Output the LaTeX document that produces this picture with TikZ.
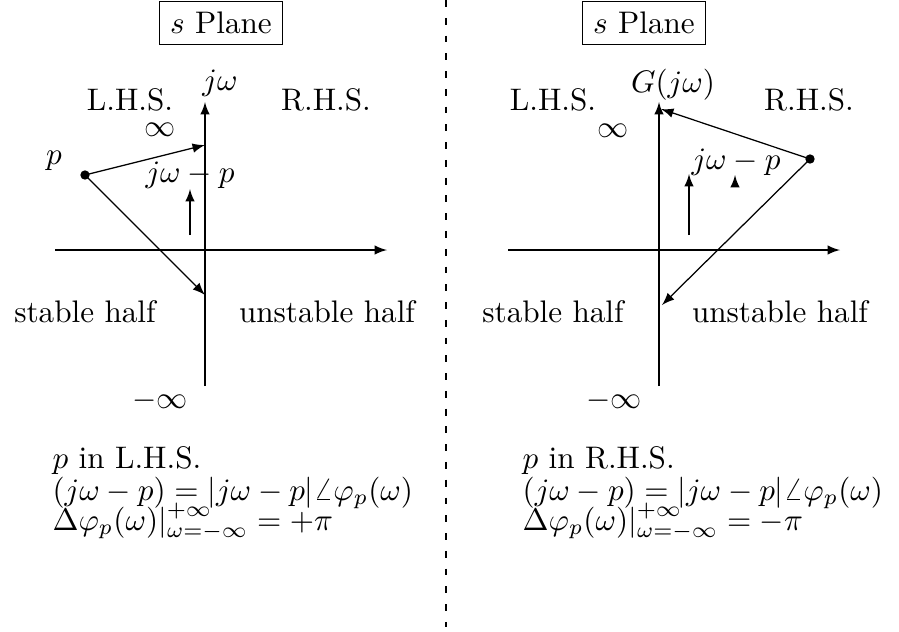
\documentclass[tikz,border=0pt]{standalone}
\usetikzlibrary{arrows}
\begin{document}
\begin{tikzpicture}[x=0.3208pt,y=-0.3208pt,
  axis/.style={-latex,line width=0.4pt},
  vec/.style={-latex,line width=0.4pt},
  lbl/.style={anchor=base,inner sep=0pt},
  lft/.style={anchor=base west,inner sep=0pt},
  titlebox/.style={draw,line width=0.4pt,inner sep=3.33pt},
  pole/.style={circle,fill,inner sep=0pt,minimum size=3pt}]
\useasboundingbox (0,0) rectangle (899,631);
% divider
\coordinate (dtop) at (446,0);
\coordinate (dbot) at (446,627);
\draw[line width=0.35pt,dash pattern=on 2.2pt off 3.5pt] (dtop) -- (dbot);
% ---------- left panel ----------
\node[titlebox] (t1) at (221,23) {$s$ Plane};
\coordinate (ly0) at (205,386);
\coordinate (ly1) at (205,102);
\coordinate (lx0) at (55,250);
\coordinate (lx1) at (387,250);
\draw[axis] (ly0) -- (ly1);
\draw[axis] (lx0) -- (lx1);
\node[lbl] (ljw) at (220,90) {$j\omega$};
\node[lbl] (llhs) at (130,110) {L.H.S.};
\node[lbl] (lrhs) at (326,110) {R.H.S.};
\node[lbl] (linf) at (160,136) {$\infty$};
\node[lbl] (lp) at (54,164) {$p$};
\node[pole] (lpole) at (85,175) {};
\coordinate (la) at (205,145);
\coordinate (lb) at (205,295);
\draw[vec] (lpole.center) -- (la);
\draw[vec] (lpole.center) -- (lb);
\node[lbl] (ljwp) at (190,182) {$j\omega-p$};
\coordinate (lu0) at (190,235);
\coordinate (lu1) at (190,189);
\draw[vec] (lu0) -- (lu1);
\node[lbl] (lst) at (85,322) {stable half};
\node[lbl] (lun) at (327,322) {unstable half};
\node[lbl] (lminf) at (160,408) {$-\infty$};
\node[lft] (lt1) at (52,468) {$p$ in L.H.S.};
\node[lft] (lt2) at (52,500) {$(j\omega-p)=|j\omega-p|\angle\varphi_p(\omega)$};
\node[lft] (lt3) at (52,530) {$\Delta\varphi_p(\omega)|_{\omega=-\infty}^{+\infty}=+\pi$};
% ---------- right panel ----------
\node[titlebox] (t2) at (644,23) {$s$ Plane};
\coordinate (ry0) at (659,386);
\coordinate (ry1) at (659,102);
\coordinate (rx0) at (508,250);
\coordinate (rx1) at (840,250);
\draw[axis] (ry0) -- (ry1);
\draw[axis] (rx0) -- (rx1);
\node[lbl] (rg) at (673,92) {$G(j\omega)$};
\node[lbl] (rlhs) at (553,110) {L.H.S.};
\node[lbl] (rrhs) at (809,110) {R.H.S.};
\node[lbl] (rinf) at (613,137) {$\infty$};
\node[pole] (rpole) at (810,159) {};
\coordinate (ra) at (661,109);
\coordinate (rb) at (662,305);
\draw[vec] (rpole.center) -- (ra);
\draw[vec] (rpole.center) -- (rb);
\node[lbl] (rjwp) at (736,169) {$j\omega-p$};
\coordinate (ru0) at (689,235);
\coordinate (ru1) at (689,174);
\draw[vec] (ru0) -- (ru1);
\coordinate (rt0) at (735,184);
\coordinate (rt1) at (735,175);
\draw[vec] (rt0) -- (rt1);
\node[lbl] (rst) at (553,322) {stable half};
\node[lbl] (run) at (780,322) {unstable half};
\node[lbl] (rminf) at (614,408) {$-\infty$};
\node[lft] (rt1x) at (522,468) {$p$ in R.H.S.};
\node[lft] (rt2x) at (522,500) {$(j\omega-p)=|j\omega-p|\angle\varphi_p(\omega)$};
\node[lft] (rt3x) at (522,530) {$\Delta\varphi_p(\omega)|_{\omega=-\infty}^{+\infty}=-\pi$};
\end{tikzpicture}
\end{document}
